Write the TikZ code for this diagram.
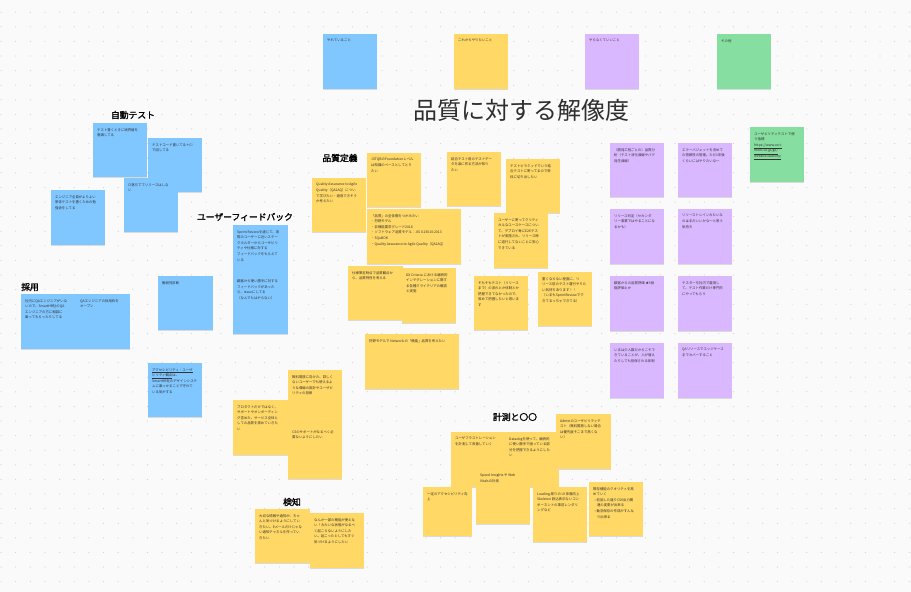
\documentclass[tikz,border=0pt]{standalone}
\usepackage{fontspec}
\newfontfamily\jp{Noto Sans CJK JP}
\newfontfamily\jpb[FakeBold=1.6]{Noto Sans CJK JP}
\definecolor{bgc}{HTML}{FAFAFA}
\definecolor{dotc}{HTML}{D2D2D2}
\definecolor{nblue}{HTML}{80C6FF}
\definecolor{nyellow}{HTML}{FFD866}
\definecolor{npurple}{HTML}{D9B8FF}
\definecolor{ngreen}{HTML}{86DFA0}
\definecolor{textc}{HTML}{333333}
\definecolor{shadowc}{HTML}{DADADA}
\tikzset{
  note/.style={draw=none,inner sep=0pt,rectangle},
  notetext/.style={font=\jp\fontsize{3.4}{5.6}\selectfont,align=left,inner sep=0pt,text=textc},
  sechead/.style={font=\jpb\fontsize{8.8}{10}\selectfont,text=black,inner sep=0pt},
  titlehead/.style={font=\jp\fontsize{24}{26}\selectfont,text=textc!90!black,inner sep=0pt}
}
\newcommand\stick[7]{%
  \fill[shadowc] (#2+0.4,#3+0.9) rectangle ++(#4,#5);
  \node[note,fill=#6,minimum width=#4pt,minimum height=#5pt,anchor=north west] (#1) at (#2,#3) {};
  \node[notetext,anchor=north west] (#1t) at ([xshift=4pt,yshift=-5pt]#1.north west) {#7};}
\begin{document}
\begin{tikzpicture}[x=1pt,y=-1pt]
\fill[bgc] (0,0) rectangle (911,592);
\useasboundingbox (0,0) rectangle (911,592);
\foreach \i in {0,...,62}{\foreach \j in {0,...,40}{\fill[dotc] (1+14.65*\i,12.2+14.6*\j) circle (0.6pt);}}
% header notes
\stick{h1}{323}{34}{54}{55}{nblue}{やれていること}
\stick{h2}{454}{34}{54}{55}{nyellow}{これからやりたいこと}
\stick{h3}{585}{34}{54}{55}{npurple}{やらなくていいこと}
\stick{h4}{717}{34}{54}{55}{ngreen}{その他}
\node[titlehead] (title) at (521,110) {品質に対する解像度};
% auto test
\node[sechead] (s1) at (133,115) {自動テスト};
\stick{a1}{93}{123}{54}{54}{nblue}{テスト書くときに境界値を\\意識してる}
\stick{a2}{148}{138}{54}{54}{nblue}{テストコード書いてる＋CI\\で回してる}
\stick{a3}{124}{178}{54}{54}{nblue}{CI落ちててリリースはしな\\い}
\stick{a4}{51}{190}{54}{55}{nblue}{エンジニア全員がよりよい\\単体テストを書くための勉\\強会をしてる}
% recruit
\node[sechead] (s2) at (30,287) {採用};
\stick{r1}{21}{294}{55}{55}{nblue}{社内にQAエンジニアがいな\\いので、SmartHR社のQA\\エンジニアの方に相談に\\乗ってもらったりしてる}
\stick{r2}{76}{294}{54}{55}{nblue}{QAエンジニアの採用枠を\\オープン}
\stick{b1}{158}{276}{55}{54}{nblue}{脆弱性診断}
\stick{b2}{148}{363}{54}{54}{nblue}{\underline{アクセシビリティ・ユーザ}\\\underline{ビリティ観点}は、\\SmartHR社のデザインシステ\\ムに乗っかることで守れて\\いる気がする}
% user feedback
\node[sechead] (s3) at (245,217) {ユーザーフィードバック};
\stick{u1}{233}{225}{55}{109}{nblue}{Sprint Reviewを通じて、実\\際のユーザーに近いステー\\クホルダーからユーザビリ\\ティや仕様に対する\\フィードバックをもらえて\\いる\\[16pt]顧客から使い勝手に対する\\フィードバックがあった\\ら、Issueにしてる\\（なんでもはやらない）}
% quality definition
\node[sechead] (s4) at (340,158) {品質定義};
\stick{q1}{312}{178}{54}{54}{nyellow}{Quality Assurance to Agile\\Quality（QA2AQ）につい\\て学びたい・適用できそう\\か考えたい}
\stick{q2}{367}{153}{54}{54}{nyellow}{JSTQBのFoundationレベル\\は知識のベースとしてとり\\たい}
\stick{q3}{447}{152}{54}{54}{nyellow}{結合テスト用のテストデー\\タを楽に作る方法が知り\\たい}
\stick{q4}{367}{209}{94}{55}{nyellow}{「品質」の全体像をつかみたい\\・狩野モデル\\・非機能要求グレード2018\\・ソフトウェア品質モデル：JIS X 25010:2013\\・SQuBOK\\・Quality Assurance to Agile Quality（QA2AQ）}
\stick{q5}{348}{266}{55}{54}{nyellow}{仕様策定時点で品質観点か\\ら、品質特性を考える}
\stick{q6}{402}{268}{54}{55}{nyellow}{DX Criteria における継続的\\インテグレーションに関す\\る各種クライテリアの確認\\と実施}
\stick{q7}{365}{334}{94}{55}{nyellow}{狩野モデルで Network の「機能」品質を考えたい}
\stick{p1}{506}{159}{54}{54}{nyellow}{テストピラミッドでいう結\\合テストに寄ってるので単\\体に切り出したい}
\stick{p2}{494}{213}{54}{55}{nyellow}{ユーザーに寄ってクリティ\\カルなユースケースについ\\て、デプロイ毎にE2Eテス\\トが実施され、リリース時\\に退行してないことに安心\\できている}
\stick{p3}{474}{276}{54}{54}{nyellow}{そもそもテスト（リリース\\まで）の流れとか体制とか\\把握できてなかったので、\\改めて把握したいと思いま\\す}
\stick{p4}{538}{272}{54}{54}{nyellow}{重くならない程度に、リ\\リース前のテスト運行やりた\\い気持ちあります！！\\（いまもSprintReviewでで\\きてるっちゃできてる）}
% purple
\stick{v1}{610}{143}{54}{54}{npurple}{（開発工程ごとの）品質分\\析（テスト消化曲線やバグ\\発生曲線）}
\stick{v2}{678}{143}{54}{54}{npurple}{エラーバジェットを決めて\\の信頼性の管理。ただ1年後\\くらいにはやりたいな〜}
\stick{v3}{610}{209}{54}{55}{npurple}{リリース判定（セカンダ\\リー事業ではやることにな\\るかも）}
\stick{v4}{678}{209}{54}{55}{npurple}{リリーストレインみたいな\\のはまだいいかな〜と思う\\気持ち}
\stick{v5}{610}{276}{54}{55}{npurple}{顧客からの品質評価 ★5段\\階評価とか}
\stick{v6}{678}{276}{54}{55}{npurple}{テスターを社内で雇用し\\て、テスト作業だけ専門的\\にやってもらう}
\stick{v7}{610}{343}{54}{55}{npurple}{いまは少人数だからこそで\\きていることが、人が増え\\たりしても担保される体制}
\stick{v8}{678}{343}{54}{55}{npurple}{QAリソースでエッジケース\\までカバーすること}
\stick{g1}{750}{127}{54}{55}{ngreen}{ユーザビリティテストで使\\う指標\\\underline{https://www.ecri-}\\\underline{ment.co.jp/go/}\\\underline{websiteusability/}}
% bottom left-middle
\stick{y1}{288}{370}{54}{55}{nyellow}{無料開放に向けた、詳しく\\ないユーザーでも使えるよ\\うな導線の設計やユーザビ\\リティの担保}
\stick{y2}{233}{400}{55}{55}{nyellow}{プロダクトだけではなく、\\サポートやオンボーディン\\グ含めた、サービス全体と\\しての品質を高めていきた\\い}
\stick{y3}{288}{425}{54}{54}{nyellow}{CSのサポートがなるべく必\\要ないようにしたい}
% detect
\node[sechead] (s5) at (292,502) {検知};
\stick{k1}{255}{509}{55}{54}{nyellow}{大切な情報や通知が、ちゃ\\んと気づけるようにしてい\\きたい。Eメールだけじゃな\\い通知チャネルを作ってい\\きたい}
\stick{k2}{310}{513}{54}{55}{nyellow}{なんか一部の機能が使えな\\い！みたいな状態がなるべ\\く起こらないようにした\\い。起こったとしてもすぐ\\気づけるようにしたい}
% measure
\node[sechead] (s6) at (515,417) {計測と〇〇};
\stick{m1}{451}{432}{54}{55}{nyellow}{ユーザフラストレーション\\を計測して改善していく}
\stick{m2}{505}{432}{54}{55}{nyellow}{Datadogを使って、継続的\\に使い勝手で困っている部\\分を把握できるようにした\\い}
\stick{m3}{556}{414}{55}{55}{nyellow}{Adminのユーザビリティテ\\スト（無料開放しない場合\\は優先度そこまで高くな\\い）}
\stick{m4}{476}{469}{54}{55}{nyellow}{Speed Insights や Web\\Vitalsの計測}
\stick{m5}{423}{487}{49}{49}{nyellow}{一定のアクセシビリティ向\\上}
\stick{m6}{533}{487}{54}{55}{nyellow}{Loading 周りの UI 体験向上\\Skeleton 読込表示ないコン\\ポーネントの事前レンダリ\\ングなど}
\stick{m7}{589}{482}{54}{54}{nyellow}{既存機能のクオリティを高\\めていく\\\ \ •\ 前回した通りCSV出力関\\\ \ \ \ \ 連の変更が出来る\\\ \ •\ 勤怠保存の作成がすんな\\\ \ \ \ \ り出来る}
\end{tikzpicture}
\end{document}
